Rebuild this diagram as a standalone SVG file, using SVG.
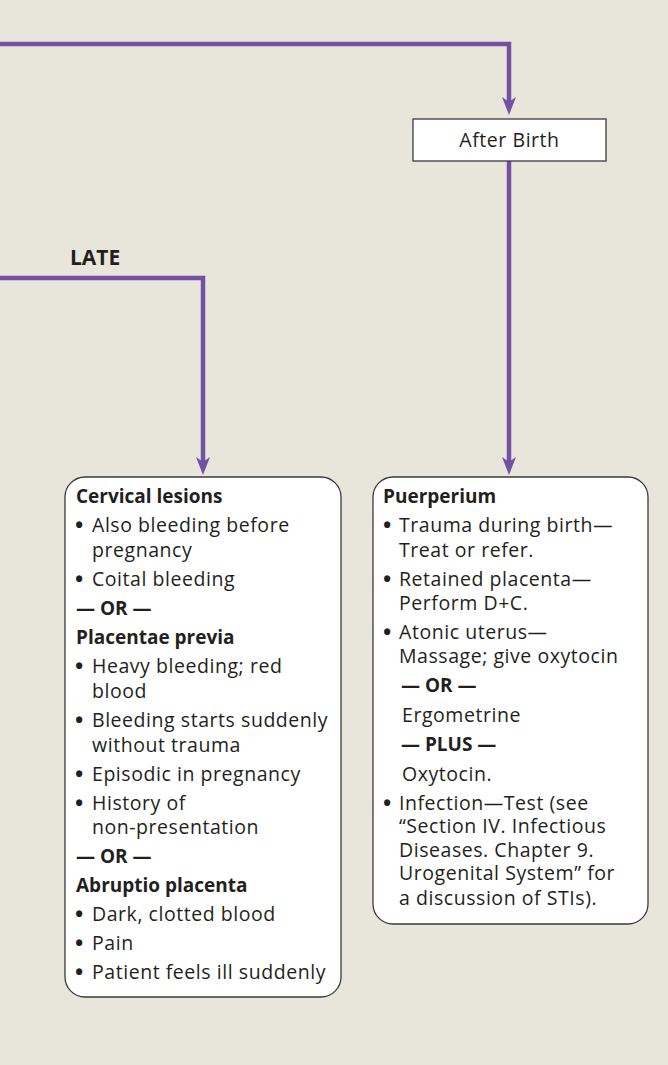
<svg xmlns="http://www.w3.org/2000/svg" width="668" height="1065" viewBox="0 0 668 1065">
<style>
  .bg{fill:#E8E6DA}
  .conn{fill:none;stroke:#7451A4;stroke-width:4.5}
  .box{fill:#FFFFFF;stroke:#3A3A3A;stroke-width:1.3}
  text{font-family:"Open Sans","Liberation Sans",sans-serif;fill:#231F20;font-size:19.5px}
  .t{letter-spacing:0.55px;font-weight:500}
  .b{font-size:22px;font-weight:bold;letter-spacing:0}
  .h{font-weight:bold;font-size:19px}
  .late{font-weight:bold;font-size:21px}
</style>
<defs>
  <marker id="arr" viewBox="0 0 18 14" markerWidth="18" markerHeight="14" markerUnits="userSpaceOnUse" refX="6" refY="7" orient="auto">
    <path d="M0,0 L18,7 L0,14 L5,7 Z" fill="#7451A4"/>
  </marker>
</defs>
<rect class="bg" x="0" y="0" width="668" height="1065"/>
<g id="connectors">
  <path class="conn" d="M0,44 H509 V103" marker-end="url(#arr)"/>
  <path class="conn" d="M509,161 V463" marker-end="url(#arr)"/>
  <path class="conn" d="M0,278 H203 V463" marker-end="url(#arr)"/>
  <text class="late" x="70" y="265">LATE</text>
</g>
<g id="after-birth">
  <rect class="box" x="413" y="119" width="193" height="42"/>
  <text class="t" x="509.5" y="147" text-anchor="middle">After Birth</text>
</g>
<g id="late-box">
  <rect class="box" x="65" y="477" width="276" height="520" rx="20"/>
  <text class="h" x="76" y="503">Cervical lesions</text>
  <text class="t"><tspan class="b" x="75" y="533">•</tspan><tspan x="92" y="532">Also bleeding before</tspan><tspan x="92" y="557">pregnancy</tspan></text>
  <text class="t"><tspan class="b" x="75" y="587">•</tspan><tspan x="92" y="586">Coital bleeding</tspan></text>
  <text class="h" x="76" y="615">— OR —</text>
  <text class="h" x="76" y="644">Placentae previa</text>
  <text class="t"><tspan class="b" x="75" y="674">•</tspan><tspan x="92" y="673">Heavy bleeding; red</tspan><tspan x="92" y="698">blood</tspan></text>
  <text class="t"><tspan class="b" x="75" y="728">•</tspan><tspan x="92" y="727">Bleeding starts suddenly</tspan><tspan x="92" y="752">without trauma</tspan></text>
  <text class="t"><tspan class="b" x="75" y="782">•</tspan><tspan x="92" y="781">Episodic in pregnancy</tspan></text>
  <text class="t"><tspan class="b" x="75" y="811">•</tspan><tspan x="92" y="810">History of</tspan><tspan x="92" y="834">non-presentation</tspan></text>
  <text class="h" x="76" y="863">— OR —</text>
  <text class="h" x="76" y="892">Abruptio placenta</text>
  <text class="t"><tspan class="b" x="75" y="922">•</tspan><tspan x="92" y="921">Dark, clotted blood</tspan></text>
  <text class="t"><tspan class="b" x="75" y="951">•</tspan><tspan x="92" y="950">Pain</tspan></text>
  <text class="t"><tspan class="b" x="75" y="980">•</tspan><tspan x="92" y="979">Patient feels ill suddenly</tspan></text>
</g>
<g id="puerperium-box">
  <rect class="box" x="373" y="477" width="275" height="447" rx="20"/>
  <text class="h" x="383" y="503">Puerperium</text>
  <text class="t"><tspan class="b" x="383" y="533">•</tspan><tspan x="399" y="532">Trauma during birth—</tspan><tspan x="399" y="557">Treat or refer.</tspan></text>
  <text class="t"><tspan class="b" x="383" y="587">•</tspan><tspan x="399" y="586">Retained placenta—</tspan><tspan x="399" y="610">Perform D+C.</tspan></text>
  <text class="t"><tspan class="b" x="383" y="640">•</tspan><tspan x="399" y="639">Atonic uterus—</tspan><tspan x="399" y="663">Massage; give oxytocin</tspan></text>
  <text class="h" x="401" y="692">— OR —</text>
  <text class="t" x="402" y="722">Ergometrine</text>
  <text class="h" x="401" y="751">— PLUS —</text>
  <text class="t" x="402" y="781">Oxytocin.</text>
  <text class="t"><tspan class="b" x="383" y="811">•</tspan><tspan x="399" y="810">Infection—Test (see</tspan><tspan x="399" y="833">“Section IV. Infectious</tspan><tspan x="399" y="857">Diseases. Chapter 9.</tspan><tspan x="399" y="880">Urogenital System” for</tspan><tspan x="399" y="905">a discussion of STIs).</tspan></text>
</g>
</svg>
